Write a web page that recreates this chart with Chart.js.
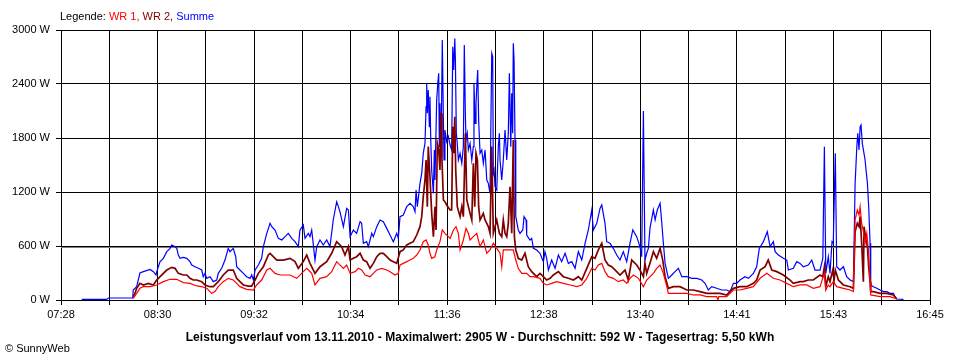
<!DOCTYPE html>
<html><head><meta charset="utf-8">
<script src="https://cdn.jsdelivr.net/npm/chart.js@4.4.0/dist/chart.umd.min.js"></script>
<style>
html,body{margin:0;padding:0;background:#fff;}
#wrap{position:relative;width:960px;height:360px;overflow:hidden;font-family:"Liberation Sans",Arial,sans-serif;background:#fff;}
canvas{position:absolute;left:0;top:0;}
.t{position:absolute;white-space:nowrap;color:#000;line-height:1;}
</style></head><body>
<div id="wrap">
<canvas id="c" width="960" height="360"></canvas>
<div class="t" id="legend" style="left:60px;top:11px;font-size:11px;">Legende: <span style="color:#ff0000">WR 1,</span> <span style="color:#800000">WR 2,</span> <span style="color:#0000ff">Summe</span></div>
<div class="t" id="title" style="left:0;width:960px;text-align:center;top:331px;font-size:12px;font-weight:bold;letter-spacing:0.06px;">Leistungsverlauf vom 13.11.2010 - Maximalwert: 2905 W - Durchschnitt: 592 W - Tagesertrag: 5,50 kWh</div>
<div class="t" style="left:5px;top:343px;font-size:11px;">© SunnyWeb</div>
</div>
<script>
// time axis: minutes since midnight
const xMin = 448;   // 07:28
const xMax = 1005;  // 16:45
const xTickLabels = ["07:28","08:30","09:32","10:34","11:36","12:38","13:40","14:41","15:43","16:45"];
const yTickValues = [0, 600, 1200, 1800, 2400, 3000];
const averageW = 592;

// [minutes since midnight, W]
const summeData = [[461.3,7],[477.3,7],[478.3,22],[494.0,22],[494.3,111],[496.5,148],[498.6,300],[500.8,315],[505.1,340],[507.2,315],[508.9,278],[509.7,333],[511.5,426],[513.6,463],[515.8,537],[517.9,574],[519.0,611],[521.1,593],[522.2,574],[523.2,500],[524.3,463],[526.4,474],[528.6,463],[530.7,426],[531.8,389],[533.9,370],[536.0,352],[538.2,333],[539.2,259],[540.3,296],[541.4,240],[543.5,259],[545.6,204],[547.8,222],[548.8,296],[551.0,352],[553.1,444],[555.2,574],[556.3,537],[558.4,574],[560.0,481],[560.6,370],[562.7,333],[564.9,296],[567.0,259],[569.2,240],[570.2,278],[571.3,222],[572.4,333],[574.5,389],[576.6,463],[577.7,593],[579.9,740],[582.0,852],[583.1,815],[585.2,778],[587.3,685],[589.5,667],[591.6,704],[593.7,740],[595.9,685],[598.0,648],[600.1,593],[601.2,778],[603.3,833],[604.4,685],[606.5,740],[607.6,704],[608.7,778],[610.8,444],[611.9,593],[614.0,667],[616.1,611],[618.3,667],[620.4,593],[622.5,889],[624.7,1092],[625.8,1037],[626.8,981],[629.0,815],[631.1,1018],[632.2,1000],[633.3,704],[635.4,778],[637.5,741],[639.7,870],[640.7,852],[641.8,630],[643.9,648],[645.0,593],[647.2,741],[648.2,704],[650.4,815],[652.5,889],[654.6,870],[656.8,796],[658.9,722],[661.0,648],[663.2,741],[664.2,685],[665.3,926],[667.4,944],[669.6,1037],[671.7,1074],[673.8,1037],[674.9,981],[675.6,1222],[676.4,1037],[678.1,1296],[679.2,1407],[680.2,1630],[681.3,1741],[682.0,2148],[682.4,2407],[682.8,2074],[683.4,2333],[684.1,1926],[684.5,2259],[685.0,1778],[685.6,1444],[686.7,1185],[687.3,1667],[687.7,1333],[688.8,2222],[689.5,2407],[690.1,2519],[690.5,1704],[690.9,2185],[691.6,1630],[692.4,2889],[693.1,2000],[693.5,1556],[694.1,1889],[695.2,1759],[696.3,1815],[697.4,1722],[698.4,1667],[699.1,2815],[699.7,2556],[700.4,2905],[700.8,2667],[701.4,1852],[702.0,1741],[702.7,1556],[703.8,1630],[704.9,1519],[705.9,1704],[706.5,2833],[707.2,2037],[707.6,1778],[708.4,1852],[709.1,1667],[710.2,1741],[711.3,1556],[712.3,1704],[712.7,2407],[713.4,1963],[714.0,2185],[714.5,2370],[715.1,2556],[715.7,2000],[716.6,1630],[717.7,1667],[718.7,1519],[719.8,1667],[720.9,1333],[721.9,1296],[723.0,1185],[724.1,2741],[724.7,2704],[725.1,1407],[725.6,1444],[726.2,1259],[727.3,1222],[728.3,1704],[729.0,1852],[729.4,1556],[730.5,1333],[731.5,1556],[732.6,1889],[733.7,1556],[734.7,1852],[735.4,2519],[736.3,1704],[736.9,2296],[737.5,1852],[737.9,2852],[738.4,2667],[739.0,1778],[739.5,926],[741.1,778],[742.2,741],[744.0,778],[744.8,926],[746.1,889],[746.5,722],[748.6,667],[749.7,685],[750.8,574],[752.9,556],[755.0,519],[757.2,426],[758.2,537],[759.3,463],[760.4,333],[762.5,444],[764.7,352],[766.8,500],[768.9,426],[771.1,519],[773.2,407],[775.4,426],[777.5,352],[779.6,537],[781.8,444],[783.9,630],[786.0,778],[788.2,1000],[789.2,778],[791.4,852],[793.5,1018],[794.6,1056],[796.7,852],[797.8,648],[799.9,630],[802.0,574],[804.2,500],[806.3,444],[808.4,537],[810.6,426],[812.7,630],[814.5,778],[817.0,704],[819.1,593],[820.2,481],[821.3,2100],[822.3,444],[823.4,519],[824.5,574],[825.5,796],[827.7,1000],[828.8,889],[830.2,1000],[832.0,1074],[833.1,852],[834.1,630],[835.2,407],[837.3,241],[839.5,278],[841.6,315],[843.7,352],[845.9,259],[849.1,259],[852.3,241],[855.5,241],[858.7,222],[860.8,185],[862.9,111],[865.1,148],[868.3,130],[871.5,111],[874.7,111],[876.8,93],[879.0,185],[881.1,185],[883.2,222],[886.4,259],[888.6,241],[891.8,296],[893.9,370],[895.6,574],[898.2,648],[900.7,759],[902.5,593],[904.6,648],[905.7,537],[907.8,500],[911.0,463],[913.2,444],[914.2,333],[917.4,352],[919.6,426],[921.7,407],[923.8,370],[927.0,389],[929.2,444],[931.3,333],[934.5,333],[936.3,463],[937.3,1704],[938.2,296],[939.8,481],[940.9,296],[942.2,648],[943.0,630],[944.3,1630],[945.2,370],[947.3,333],[949.5,370],[951.6,259],[953.8,222],[955.9,204],[957.0,1296],[958.1,1704],[958.7,1852],[959.5,1667],[960.2,1926],[960.8,1944],[961.6,1741],[962.7,1630],[963.4,1556],[964.0,1444],[964.9,1296],[965.7,1037],[966.6,630],[967.0,167],[968.7,148],[970.9,130],[973.0,111],[975.2,93],[977.3,93],[979.4,74],[981.5,74],[982.6,37],[983.7,11],[988.0,7]];

const wr2Data = [[494.3,37],[495.4,74],[496.5,130],[498.6,185],[500.8,167],[504.0,185],[507.2,167],[509.3,222],[511.5,259],[515.8,333],[519.0,363],[521.1,352],[523.2,296],[526.4,278],[528.6,278],[530.7,241],[532.8,222],[535.0,222],[538.2,204],[540.3,167],[543.5,148],[545.6,148],[548.8,204],[552.0,278],[555.2,333],[558.4,333],[560.6,241],[562.7,204],[564.9,167],[568.1,155],[570.2,155],[572.4,222],[574.5,296],[577.7,370],[580.9,500],[582.0,518],[584.1,481],[586.3,444],[590.5,444],[594.8,463],[598.0,426],[600.1,352],[603.3,426],[605.5,500],[607.6,407],[610.8,296],[614.0,370],[618.3,426],[621.5,519],[624.7,648],[627.9,593],[630.0,500],[632.2,593],[633.3,444],[635.4,463],[637.5,481],[639.7,519],[641.8,444],[643.9,426],[646.1,352],[648.2,407],[650.4,481],[652.5,519],[654.6,519],[656.8,481],[658.9,444],[661.0,426],[663.2,407],[665.3,537],[667.4,556],[669.6,611],[671.7,630],[673.8,648],[676.0,722],[678.1,815],[679.2,926],[680.2,1148],[681.3,1333],[682.0,1556],[682.8,1037],[683.4,1704],[684.5,1370],[685.6,963],[686.7,704],[687.7,1037],[688.4,778],[689.2,1741],[690.1,1667],[690.9,1444],[691.6,2074],[692.2,1556],[693.1,1111],[694.1,1093],[695.2,1056],[697.4,1000],[698.4,1000],[699.1,1926],[699.7,1630],[700.4,2037],[701.0,1444],[702.0,1037],[703.8,926],[704.9,1037],[705.9,926],[707.2,1852],[708.1,1111],[710.2,963],[711.3,889],[712.3,1519],[713.2,1037],[714.0,1630],[714.9,1556],[715.7,1037],[716.6,889],[718.7,963],[719.8,889],[721.9,815],[723.0,741],[724.1,1704],[725.1,741],[726.2,815],[727.3,889],[729.0,741],[730.5,704],[731.5,889],[732.6,741],[733.7,704],[734.7,852],[735.8,1259],[736.9,741],[737.9,1778],[738.6,704],[739.5,556],[741.1,463],[743.3,444],[745.4,519],[747.5,370],[749.7,315],[752.9,259],[755.0,296],[757.2,259],[759.3,222],[761.5,241],[763.6,278],[766.8,315],[770.0,259],[773.2,241],[776.4,222],[779.6,259],[781.8,222],[785.0,352],[788.2,481],[790.3,463],[792.4,556],[794.6,630],[796.7,444],[798.8,389],[801.0,370],[804.2,315],[806.3,278],[809.5,333],[811.6,222],[813.8,444],[817.0,389],[819.1,333],[821.3,259],[822.3,407],[823.4,296],[825.5,407],[827.7,537],[829.8,463],[832.0,574],[833.7,444],[835.2,259],[837.3,130],[840.5,148],[844.8,148],[849.1,111],[853.3,111],[857.6,93],[861.9,74],[866.1,74],[870.4,74],[874.7,56],[879.0,130],[883.2,148],[887.5,148],[891.8,185],[893.9,222],[896.1,333],[899.3,370],[901.3,444],[903.6,333],[906.8,315],[911.0,278],[915.3,222],[917.4,185],[921.7,204],[923.8,204],[927.0,222],[930.2,222],[934.5,278],[936.3,259],[937.3,370],[938.2,148],[939.8,259],[940.9,204],[942.7,333],[943.5,222],[944.3,333],[946.3,222],[949.5,167],[953.8,148],[955.9,130],[957.0,759],[958.4,852],[959.5,815],[960.2,926],[961.2,630],[962.3,204],[962.7,815],[964.0,667],[964.9,593],[965.7,370],[966.6,204],[967.0,93],[968.7,93],[973.0,74],[977.3,74],[981.5,56],[983.7,11]];

const wr1Data = [[494.3,19],[496.5,74],[498.6,130],[500.8,148],[505.1,148],[509.3,167],[513.6,204],[517.9,230],[522.2,230],[526.4,193],[530.7,185],[535.0,156],[538.2,148],[541.4,130],[544.6,74],[546.7,93],[548.8,148],[552.0,204],[555.2,241],[558.4,222],[560.6,185],[562.7,148],[567.0,118],[571.3,111],[573.4,167],[576.6,222],[579.9,333],[582.0,352],[585.2,296],[588.4,278],[594.8,278],[599.1,241],[603.3,315],[605.5,352],[608.7,296],[610.8,167],[614.0,241],[618.3,259],[621.5,315],[624.7,426],[629.0,352],[631.1,389],[633.3,296],[636.5,315],[638.6,352],[640.7,333],[642.9,278],[646.1,259],[648.2,296],[650.4,333],[653.6,352],[656.8,333],[658.9,315],[662.1,278],[664.2,296],[665.3,389],[667.4,407],[669.6,426],[671.7,444],[673.8,463],[676.0,500],[678.1,556],[680.2,648],[682.0,667],[683.4,611],[684.5,519],[685.6,463],[687.7,481],[688.8,556],[690.9,648],[692.4,778],[694.1,741],[696.3,704],[697.4,685],[699.5,778],[701.2,815],[702.7,741],[703.8,556],[705.9,667],[707.6,796],[709.1,741],[710.2,667],[712.3,704],[714.5,741],[715.5,667],[716.6,593],[718.7,667],[720.9,519],[723.0,556],[725.1,630],[727.3,574],[729.4,519],[730.5,370],[731.5,556],[733.7,556],[735.8,556],[737.9,556],[739.5,444],[741.1,352],[743.3,296],[746.5,296],[748.6,259],[750.8,259],[755.0,241],[757.2,185],[759.3,167],[762.5,185],[765.7,204],[770.0,185],[774.3,167],[778.6,148],[781.8,167],[785.0,241],[788.2,352],[790.3,333],[792.4,389],[794.6,407],[796.7,315],[798.8,259],[802.0,241],[805.2,204],[808.4,222],[810.6,185],[812.7,241],[814.9,278],[818.1,241],[821.3,148],[823.4,222],[827.7,296],[829.8,352],[832.0,389],[834.1,296],[836.3,148],[837.3,74],[844.8,74],[849.1,74],[853.3,56],[857.6,56],[861.9,37],[868.3,37],[869.1,0],[869.6,37],[874.7,37],[879.0,111],[883.2,111],[887.5,130],[891.8,148],[896.1,241],[900.4,296],[904.6,241],[908.9,222],[913.2,185],[917.4,148],[921.7,167],[926.0,167],[930.2,130],[934.5,148],[937.3,296],[938.2,111],[939.8,167],[940.9,148],[943.0,204],[945.2,148],[949.5,130],[953.8,111],[955.9,93],[957.0,889],[958.4,1000],[959.5,944],[960.2,1037],[961.2,852],[962.3,759],[963.4,630],[964.5,741],[965.5,556],[966.6,204],[967.0,56],[973.0,37],[979.4,37],[983.7,11]];

const toPts = arr => arr.map(p => ({x: p[0], y: p[1]}));

// average line drawn through the y scale, directly under the 600 W grid line
const averageLine = {
  id: 'averageLine',
  beforeDatasetsDraw(chart) {
    const {ctx, chartArea: a, scales: {y}} = chart;
    const py = Math.round(y.getPixelForValue(averageW)) + 0.5;
    ctx.save();
    ctx.strokeStyle = '#808080';
    ctx.lineWidth = 1;
    ctx.beginPath();
    ctx.moveTo(a.left, py);
    ctx.lineTo(a.right, py);
    ctx.stroke();
    ctx.restore();
  }
};

new Chart(document.getElementById('c'), {
  type: 'line',
  data: {
    datasets: [
      {label: 'WR 1', data: toPts(wr1Data), borderColor: '#ff0000', borderWidth: 1.2, pointRadius: 0, tension: 0, order: 1},
      {label: 'WR 2', data: toPts(wr2Data), borderColor: '#800000', borderWidth: 1.7, pointRadius: 0, tension: 0, order: 2},
      {label: 'Summe', data: toPts(summeData), borderColor: '#0000ff', borderWidth: 1.2, pointRadius: 0, tension: 0, order: 3}
    ]
  },
  plugins: [averageLine],
  options: {
    responsive: false,
    animation: false,
    events: [],
    layout: {padding: {top: 30, right: 30, left: 0, bottom: 0}},
    plugins: {legend: {display: false}, tooltip: {enabled: false}, title: {display: false}},
    scales: {
      x: {
        type: 'linear', min: xMin, max: xMax,
        afterFit: s => { s.height = 60; },
        afterBuildTicks: axis => {
          const n = (xTickLabels.length - 1) * 2;
          axis.ticks = Array.from({length: n + 1}, (_, i) => ({value: xMin + i * (xMax - xMin) / n}));
        },
        grid: {color: '#000', lineWidth: 1, tickColor: '#000', tickLength: 5, drawTicks: true},
        border: {color: '#000', width: 1},
        ticks: {
          autoSkip: false, maxRotation: 0, minRotation: 0, padding: 3, color: '#000',
          font: {family: '"Liberation Sans", Arial, sans-serif', size: 11},
          callback: (v, i) => (i % 2 === 0 ? xTickLabels[i / 2] : '')
        }
      },
      y: {
        min: 0, max: 3000,
        afterFit: s => { s.width = 61; },
        afterBuildTicks: axis => { axis.ticks = yTickValues.map(v => ({value: v})); },
        grid: {color: '#000', lineWidth: 1, tickColor: '#000', tickLength: 5, drawTicks: true},
        border: {color: '#000', width: 1},
        ticks: {
          padding: 6, color: '#000',
          font: {family: '"Liberation Sans", Arial, sans-serif', size: 11},
          callback: v => v + ' W'
        }
      }
    }
  }
});
</script>
</body></html>
